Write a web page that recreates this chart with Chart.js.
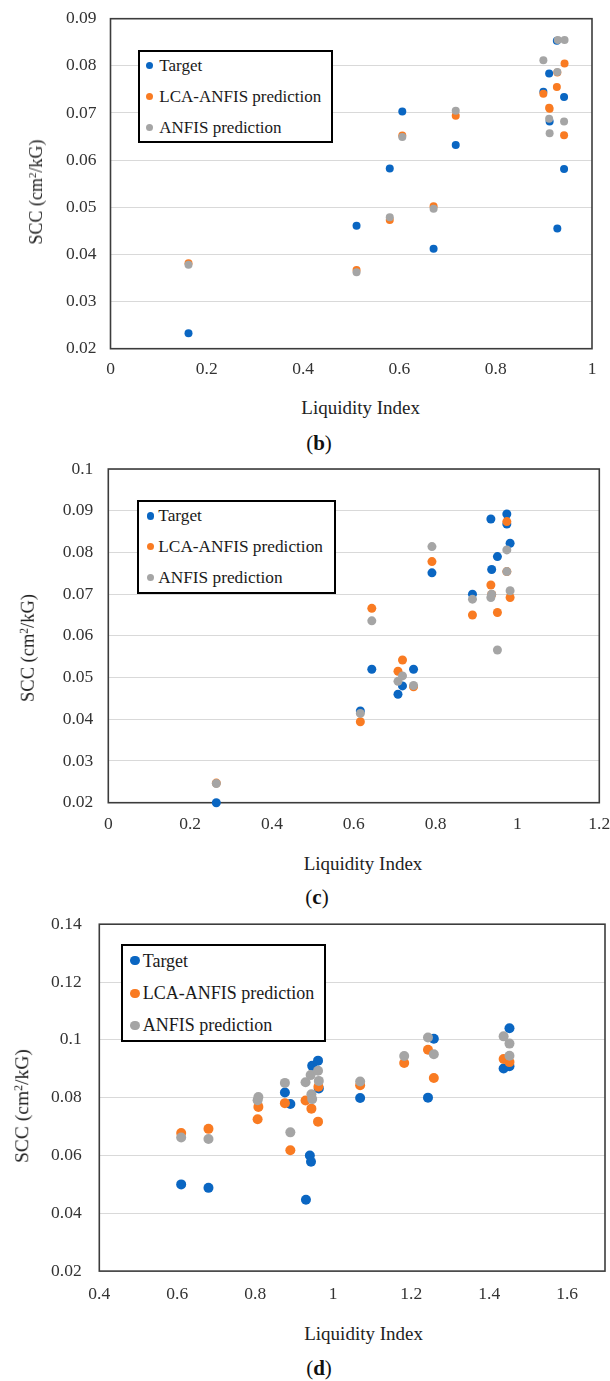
<!DOCTYPE html>
<html>
<head>
<meta charset="utf-8">
<title>SCC vs Liquidity Index</title>
<script src="https://cdn.jsdelivr.net/npm/chart.js@4.4.1/dist/chart.umd.min.js"></script>
<style>
  html, body { margin: 0; padding: 0; background: #fff; }
  body { position: relative; width: 610px; height: 1381px; overflow: hidden;
         font-family: "Liberation Serif", "Times New Roman", serif; color: #222; }
  canvas { position: absolute; left: 0; }
  .txt { position: absolute; white-space: nowrap; line-height: 1; transform: translate(-50%, -50%); }
  .ytitle { transform: translate(-50%, -50%) rotate(-90deg); }
  .sup { font-size: 0.62em; vertical-align: 0.5em; }
  .legend { position: absolute; border: 2px solid #000; background: #fff; box-sizing: border-box; }
  .dot { position: absolute; border-radius: 50%; }
  .ltxt { position: absolute; white-space: nowrap; line-height: 1; color: #1a1a1a; }
</style>
</head>
<body>
<script>
// ---- series shared by all three panels ----
const seriesNames = ['Target', 'LCA-ANFIS prediction', 'ANFIS prediction'];
const seriesColors = ['#0A66C2', '#F97B22', '#A5A5A5'];

// ---- panel (b) ----
const targetB_li  = [0.162, 0.511, 0.580, 0.606, 0.671, 0.717, 0.899, 0.911, 0.912, 0.927, 0.928, 0.942, 0.942];
const targetB_scc = [0.0233, 0.0461, 0.0582, 0.0703, 0.0412, 0.0632, 0.0745, 0.0784, 0.0682, 0.0853, 0.0455, 0.0734, 0.0581];
const lcaB_li     = [0.162, 0.511, 0.580, 0.606, 0.671, 0.717, 0.899, 0.911, 0.912, 0.928, 0.927, 0.943, 0.942];
const lcaB_scc    = [0.0381, 0.0367, 0.0473, 0.0652, 0.0502, 0.0694, 0.0741, 0.0711, 0.0709, 0.0786, 0.0755, 0.0805, 0.0653];
const anfisB_li   = [0.162, 0.511, 0.580, 0.606, 0.671, 0.717, 0.899, 0.911, 0.912, 0.929, 0.928, 0.943, 0.942];
const anfisB_scc  = [0.0378, 0.0362, 0.0479, 0.0649, 0.0497, 0.0705, 0.0812, 0.0688, 0.0657, 0.0855, 0.0787, 0.0855, 0.0682];
const xTicksB  = [0, 0.2, 0.4, 0.6, 0.8, 1];
const xLabelsB = ['0', '0.2', '0.4', '0.6', '0.8', '1'];
const yTicksB  = [0.02, 0.03, 0.04, 0.05, 0.06, 0.07, 0.08, 0.09];
const yLabelsB = ['0.02', '0.03', '0.04', '0.05', '0.06', '0.07', '0.08', '0.09'];

// ---- panel (c) ----
const targetC_li  = [0.264, 0.616, 0.644, 0.708, 0.719, 0.746, 0.791, 0.890, 0.935, 0.937, 0.951, 0.974, 0.974, 0.982];
const targetC_scc = [0.0200, 0.0420, 0.0520, 0.0460, 0.0480, 0.0520, 0.0751, 0.0700, 0.0880, 0.0759, 0.0790, 0.0892, 0.0868, 0.0822];
const lcaC_li     = [0.264, 0.616, 0.644, 0.708, 0.719, 0.746, 0.791, 0.890, 0.935, 0.937, 0.951, 0.974, 0.974, 0.982];
const lcaC_scc    = [0.0247, 0.0394, 0.0666, 0.0515, 0.0542, 0.0478, 0.0778, 0.0650, 0.0722, 0.0699, 0.0656, 0.0874, 0.0754, 0.0692];
const anfisC_li   = [0.264, 0.616, 0.644, 0.708, 0.719, 0.746, 0.791, 0.890, 0.935, 0.937, 0.951, 0.974, 0.974, 0.982];
const anfisC_scc  = [0.0246, 0.0414, 0.0636, 0.0491, 0.0504, 0.0481, 0.0814, 0.0688, 0.0692, 0.0700, 0.0566, 0.0806, 0.0754, 0.0708];
const xTicksC  = [0, 0.2, 0.4, 0.6, 0.8, 1, 1.2];
const xLabelsC = ['0', '0.2', '0.4', '0.6', '0.8', '1', '1.2'];
const yTicksC  = [0.02, 0.03, 0.04, 0.05, 0.06, 0.07, 0.08, 0.09, 0.1];
const yLabelsC = ['0.02', '0.03', '0.04', '0.05', '0.06', '0.07', '0.08', '0.09', '0.1'];

// ---- panel (d) ----
const targetD_li  = [0.610, 0.680, 0.876, 0.890, 0.930, 0.940, 0.943, 0.946, 0.961, 0.963, 1.069, 1.243, 1.258, 1.437, 1.452, 1.452];
const targetD_scc = [0.0500, 0.0488, 0.0818, 0.0778, 0.0447, 0.0600, 0.0578, 0.0910, 0.0928, 0.0832, 0.0799, 0.0800, 0.1004, 0.0901, 0.1040, 0.0909];
const lcaD_li     = [0.610, 0.680, 0.806, 0.808, 0.876, 0.890, 0.929, 0.944, 0.961, 0.962, 1.069, 1.182, 1.243, 1.258, 1.437, 1.452];
const lcaD_scc    = [0.0678, 0.0692, 0.0725, 0.0768, 0.0781, 0.0618, 0.0790, 0.0762, 0.0717, 0.0838, 0.0843, 0.0920, 0.0966, 0.0868, 0.0934, 0.0923];
const anfisD_li   = [0.610, 0.680, 0.806, 0.808, 0.876, 0.890, 0.929, 0.942, 0.944, 0.946, 0.961, 0.963, 1.069, 1.182, 1.243, 1.258, 1.437, 1.452, 1.452];
const anfisD_scc  = [0.0662, 0.0657, 0.0791, 0.0802, 0.0851, 0.0680, 0.0853, 0.0878, 0.0812, 0.0795, 0.0893, 0.0858, 0.0856, 0.0944, 0.1008, 0.0950, 0.1012, 0.0987, 0.0945];
const xTicksD  = [0.4, 0.6, 0.8, 1, 1.2, 1.4, 1.6];
const xLabelsD = ['0.4', '0.6', '0.8', '1', '1.2', '1.4', '1.6'];
const yTicksD  = [0.02, 0.04, 0.06, 0.08, 0.1, 0.12, 0.14];
const yLabelsD = ['0.02', '0.04', '0.06', '0.08', '0.1', '0.12', '0.14'];

const xTitle = 'Liquidity Index';
const yTitleHTML = 'SCC (cm<span class="sup">2</span>/kG)';

// ---- page layout of each panel (pixels on the page) ----
const panels = [
  {
    caption: 'b',
    series: [[targetB_li, targetB_scc], [lcaB_li, lcaB_scc], [anfisB_li, anfisB_scc]],
    xTicks: xTicksB, xLabels: xLabelsB, yTicks: yTicksB, yLabels: yLabelsB,
    xMin: 0, xMax: 1, yMin: 0.02, yMax: 0.09,
    canvasTop: 0, canvasH: 392,
    area: { left: 110.5, right: 592, top: 18.7, bottom: 348.7 },
    pointR: 4, yPad: 14, xPad: 10.5,
    xTitlePos: [360.7, 406.7], yTitlePos: [36, 191.7], yTitleSize: 18, captionPos: [319, 443.3],
    legend: { left: 138.3, top: 50, right: 333, bottom: 143.3, rows: [65, 96, 127.3], dotX: 149.3, dotR: 3.5, textX: 159.3, size: 17 }
  },
  {
    caption: 'c',
    series: [[targetC_li, targetC_scc], [lcaC_li, lcaC_scc], [anfisC_li, anfisC_scc]],
    xTicks: xTicksC, xLabels: xLabelsC, yTicks: yTicksC, yLabels: yLabelsC,
    xMin: 0, xMax: 1.2, yMin: 0.02, yMax: 0.1,
    canvasTop: 445, canvasH: 395,
    area: { left: 108.3, right: 599.3, top: 469, bottom: 802.7 },
    pointR: 4.5, yPad: 15, xPad: 11.5,
    xTitlePos: [363, 863.3], yTitlePos: [28, 648], yTitleSize: 18.5, captionPos: [317, 896.7],
    legend: { left: 137, top: 500, right: 335.7, bottom: 594.3, rows: [516, 546.7, 577.7], dotX: 150.3, dotR: 3.8, textX: 158.3, size: 17.3 }
  },
  {
    caption: 'd',
    series: [[targetD_li, targetD_scc], [lcaD_li, lcaD_scc], [anfisD_li, anfisD_scc]],
    xTicks: xTicksD, xLabels: xLabelsD, yTicks: yTicksD, yLabels: yLabelsD,
    xMin: 0.4, xMax: 1.697, yMin: 0.02, yMax: 0.14,
    canvasTop: 900, canvasH: 420,
    area: { left: 99.3, right: 607.7, top: 924.2, bottom: 1271.1 },
    pointR: 5, yPad: 17.6, xPad: 12.5,
    xTitlePos: [363.6, 1333.3], yTitlePos: [21.7, 1105.7], yTitleSize: 19.5, captionPos: [319, 1368],
    legend: { left: 120.7, top: 944.3, right: 326.3, bottom: 1041.7, rows: [960.7, 993.3, 1025.3], dotX: 135, dotR: 4.7, textX: 142.7, size: 18 }
  }
];

// plot-area frame, drawn over the gridlines and under the markers
const plotFrame = {
  id: 'plotFrame',
  beforeDatasetsDraw(chart) {
    const { ctx, chartArea: a } = chart;
    ctx.save();
    ctx.strokeStyle = '#3C3C3C';
    ctx.lineWidth = 1.6;
    ctx.strokeRect(a.left, a.top, a.right - a.left, a.bottom - a.top);
    ctx.restore();
  }
};

const tickFont = { family: "'Liberation Serif', 'Times New Roman', serif", size: 17.5 };

function addText(html, x, y, cls, style) {
  const d = document.createElement('div');
  d.className = 'txt ' + (cls || '');
  d.innerHTML = html;
  d.style.left = x + 'px';
  d.style.top = y + 'px';
  Object.assign(d.style, style || {});
  document.body.appendChild(d);
}

function addLegend(lg) {
  const box = document.createElement('div');
  box.className = 'legend';
  box.style.left = lg.left + 'px';
  box.style.top = lg.top + 'px';
  box.style.width = (lg.right - lg.left) + 'px';
  box.style.height = (lg.bottom - lg.top) + 'px';
  document.body.appendChild(box);
  seriesNames.forEach((name, i) => {
    const dot = document.createElement('div');
    dot.className = 'dot';
    dot.style.background = seriesColors[i];
    dot.style.width = dot.style.height = (2 * lg.dotR) + 'px';
    dot.style.left = (lg.dotX - lg.dotR) + 'px';
    dot.style.top = (lg.rows[i] - lg.dotR) + 'px';
    document.body.appendChild(dot);
    const t = document.createElement('div');
    t.className = 'ltxt';
    t.textContent = name;
    t.style.fontSize = lg.size + 'px';
    t.style.left = lg.textX + 'px';
    t.style.top = (lg.rows[i] - lg.size / 2) + 'px';
    document.body.appendChild(t);
  });
}

function makePanel(p) {
  const canvas = document.createElement('canvas');
  canvas.width = 610;
  canvas.height = p.canvasH;
  canvas.style.top = p.canvasTop + 'px';
  canvas.style.width = '610px';
  canvas.style.height = p.canvasH + 'px';
  document.body.appendChild(canvas);

  const areaTop = p.area.top - p.canvasTop;
  const areaBottom = p.area.bottom - p.canvasTop;

  new Chart(canvas, {
    type: 'scatter',
    data: {
      datasets: p.series.map(([li, scc], i) => ({
        label: seriesNames[i],
        data: li.map((x, k) => ({ x: x, y: scc[k] })),
        backgroundColor: seriesColors[i],
        borderWidth: 0,
        pointRadius: p.pointR,
        pointHoverRadius: p.pointR,
        order: 3 - i,
        clip: false
      }))
    },
    options: {
      responsive: false,
      animation: false,
      devicePixelRatio: 1,
      events: [],
      layout: { padding: { left: 0, top: areaTop, right: 610 - p.area.right, bottom: 0 } },
      plugins: { legend: { display: false }, tooltip: { enabled: false } },
      scales: {
        x: {
          type: 'linear',
          min: p.xMin, max: p.xMax,
          grid: { display: false, drawTicks: false },
          border: { display: false },
          ticks: {
            font: tickFont, color: '#333', padding: p.xPad, maxRotation: 0, autoSkip: false,
            callback: (v, i) => p.xLabels[i]
          },
          afterBuildTicks: sc => { sc.ticks = p.xTicks.map(v => ({ value: v })); },
          afterFit: sc => { sc.height = p.canvasH - areaBottom; sc.paddingLeft = 0; sc.paddingRight = 0; }
        },
        y: {
          type: 'linear',
          min: p.yMin, max: p.yMax,
          grid: { color: '#D9D9D9', lineWidth: 1, drawTicks: false },
          border: { display: false },
          ticks: {
            font: tickFont, color: '#333', padding: p.yPad, autoSkip: false,
            callback: (v, i) => p.yLabels[i]
          },
          afterBuildTicks: sc => { sc.ticks = p.yTicks.map(v => ({ value: v })); },
          afterFit: sc => { sc.width = p.area.left; sc.paddingTop = 0; sc.paddingBottom = 0; }
        }
      }
    },
    plugins: [plotFrame]
  });

  addLegend(p.legend);
  addText(xTitle, p.xTitlePos[0], p.xTitlePos[1], '', { fontSize: '19px' });
  addText(yTitleHTML, p.yTitlePos[0], p.yTitlePos[1], 'ytitle', { fontSize: p.yTitleSize + 'px' });
  addText('(<b>' + p.caption + '</b>)', p.captionPos[0], p.captionPos[1], '', { fontSize: '21px', color: '#111' });
}

panels.forEach(makePanel);
</script>
</body>
</html>
